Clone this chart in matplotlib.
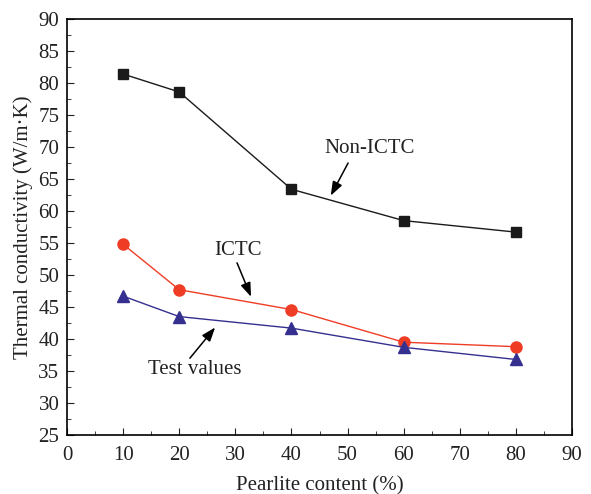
import matplotlib
matplotlib.use("Agg")
import matplotlib.pyplot as plt
from matplotlib.ticker import MultipleLocator

# data
pearlite = [10, 20, 40, 60, 80]
non_ictc = [81.4, 78.6, 63.4, 58.5, 56.7]
ictc = [54.8, 47.7, 44.6, 39.5, 38.8]
test_values = [46.7, 43.5, 41.7, 38.7, 36.8]

plt.rcParams['font.family'] = ['Liberation Serif', 'DejaVu Serif']

fig = plt.figure(figsize=(5.91, 4.94), dpi=100)
ax = fig.add_axes([67 / 591, 1 - 435 / 494, 505 / 591, 416 / 494])

ax.plot(pearlite, non_ictc, color='#1a1a1a', lw=1.0, marker='s', ms=7, mfc='#1a1a1a', mec='#1a1a1a')
ax.plot(pearlite, ictc, color='#ef3d25', lw=1.0, marker='o', ms=8, mfc='#ef3d25', mec='#ef3d25')
ax.plot(pearlite, test_values, color='#35308f', lw=1.0, marker='^', ms=8, mfc='#35308f', mec='#35308f')

ax.set_xlim(0, 90)
ax.set_ylim(25, 90)
ax.xaxis.set_major_locator(MultipleLocator(10))
ax.xaxis.set_minor_locator(MultipleLocator(5))
ax.yaxis.set_major_locator(MultipleLocator(5))
ax.yaxis.set_minor_locator(MultipleLocator(2.5))
ax.tick_params(which='both', direction='in', labelsize=15, colors='#222222')
ax.tick_params(which='major', length=5)
ax.tick_params(which='minor', length=3)
ax.tick_params(axis='x', which='major', pad=8)
ax.tick_params(axis='y', which='major', pad=5.5)
for s in ax.spines.values():
    s.set_linewidth(1.2)

ax.set_xlabel('Pearlite content (%)', fontsize=15, color='#222222', labelpad=8)
ax.set_ylabel('Thermal conductivity (W/m·K)', fontsize=15, color='#222222')

# labels and their arrows, drawn separately
arrow = dict(arrowstyle='-|>,head_length=0.6,head_width=0.22', color='black',
             lw=1.1, mutation_scale=14, shrinkA=0, shrinkB=0)
labels = [
    ('Non-ICTC', (54.0, 69.8), (50.1, 67.5), (47.0, 62.4)),
    ('ICTC', (30.5, 53.9), (30.3, 51.9), (32.8, 46.6)),
    ('Test values', (22.8, 35.2), (21.9, 37.0), (26.4, 41.8)),
]
for txt, pos, tail, tip in labels:
    ax.text(pos[0], pos[1], txt, fontsize=15, ha='center', va='center', color='#222222')
    ax.annotate('', xy=tip, xytext=tail, arrowprops=arrow)

fig.savefig('out.png', dpi=100)
